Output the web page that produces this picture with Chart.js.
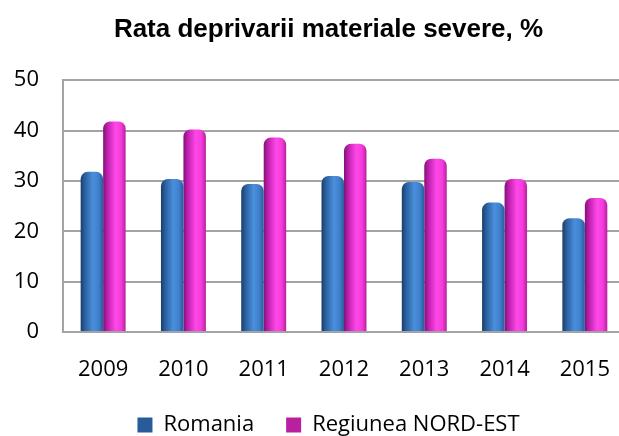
<!DOCTYPE html>
<html>
<head>
<meta charset="utf-8">
<script src="https://cdn.jsdelivr.net/npm/chart.js@4.4.0/dist/chart.umd.min.js"></script>
<style>
  html, body { margin: 0; padding: 0; overflow: hidden; background: #fff; }
  #wrap { width: 627px; height: 446px; }
</style>
</head>
<body>
<div id="wrap"><canvas id="barChart"></canvas></div>
<script>
const years = ['2009', '2010', '2011', '2012', '2013', '2014', '2015'];
const romania = [31.8, 30.4, 29.4, 31.0, 29.8, 25.7, 22.6];
const nordEst = [41.8, 40.2, 38.6, 37.4, 34.4, 30.4, 26.6];
const yTicks = [0, 10, 20, 30, 40, 50];

const catPct = 0.56;
const gridGray = '#a3a3a3';

// horizontal gradient across each bar so it looks like a cylinder
function cylinder(stops, flat) {
  return function (context) {
    if (context.type !== 'data') return flat;
    const chart = context.chart;
    const x = chart.scales.x;
    if (!chart.chartArea || !x) return flat;
    const step = x.getPixelForValue(1) - x.getPixelForValue(0);
    const w = step * catPct / 2;
    const center = x.getPixelForValue(context.dataIndex);
    const left = context.datasetIndex === 0 ? center - w : center;
    const g = chart.ctx.createLinearGradient(left, 0, left + w, 0);
    stops.forEach(function (s) { g.addColorStop(s[0], s[1]); });
    return g;
  };
}

const blueStops = [[0, '#1a3d68'], [0.18, '#2a5e9c'], [0.55, '#4a8fdc'], [0.8, '#3f80cc'], [1, '#285b99']];
const pinkStops = [[0, '#7e1275'], [0.18, '#bd1eab'], [0.55, '#ff48e8'], [0.8, '#f33cdb'], [1, '#b9209f']];

const ctx = document.getElementById('barChart').getContext('2d');
const myChart = new Chart(ctx, {
  type: 'bar',
  data: {
    labels: years,
    datasets: [{
      label: 'Romania',
      data: romania,
      backgroundColor: cylinder(blueStops, '#3b7bc6'),
      borderWidth: 0,
      borderRadius: { topLeft: 7, topRight: 7 },
      borderSkipped: 'bottom'
    }, {
      label: 'Regiunea NORD-EST',
      data: nordEst,
      backgroundColor: cylinder(pinkStops, '#e83ad2'),
      borderWidth: 0,
      borderRadius: { topLeft: 7, topRight: 7 },
      borderSkipped: 'bottom'
    }]
  },
  options: {
    responsive: true,
    maintainAspectRatio: false,
    animation: false,
    layout: { padding: { left: 30, right: 0, top: 0, bottom: 0 } },
    datasets: { bar: { categoryPercentage: catPct, barPercentage: 1.0 } },
    plugins: {
      title: {
        display: true,
        text: 'Rata deprivarii materiale severe, %',
        color: '#000',
        font: { family: 'Liberation Sans', size: 26, weight: 'bold' },
        padding: { top: 14, bottom: 35 }
      },
      legend: {
        position: 'bottom',
        labels: {
          color: '#000',
          font: { family: 'Open Sans', size: 22 },
          boxWidth: 15,
          boxHeight: 15,
          padding: 32
        }
      },
      tooltip: { enabled: false }
    },
    scales: {
      x: {
        grid: { display: false },
        border: { color: gridGray, width: 2 },
        ticks: { color: '#000', font: { family: 'Open Sans', size: 22 }, padding: 17 },
        afterFit: function (scale) { scale.height = 50; }
      },
      y: {
        min: 0,
        max: 50,
        grid: { color: gridGray, lineWidth: 2, drawTicks: false },
        border: { color: gridGray, width: 2 },
        ticks: { color: '#000', font: { family: 'Open Sans', size: 22 }, padding: 24 },
        afterBuildTicks: function (scale) {
          scale.ticks = yTicks.map(function (v) { return { value: v }; });
        },
        afterFit: function (scale) {
          scale.width = 33;
          // labels reach into the left padding, so don't clip them to the axis box
          scale._computeLabelArea = function () { return null; };
        }
      }
    }
  }
});
</script>
</body>
</html>
